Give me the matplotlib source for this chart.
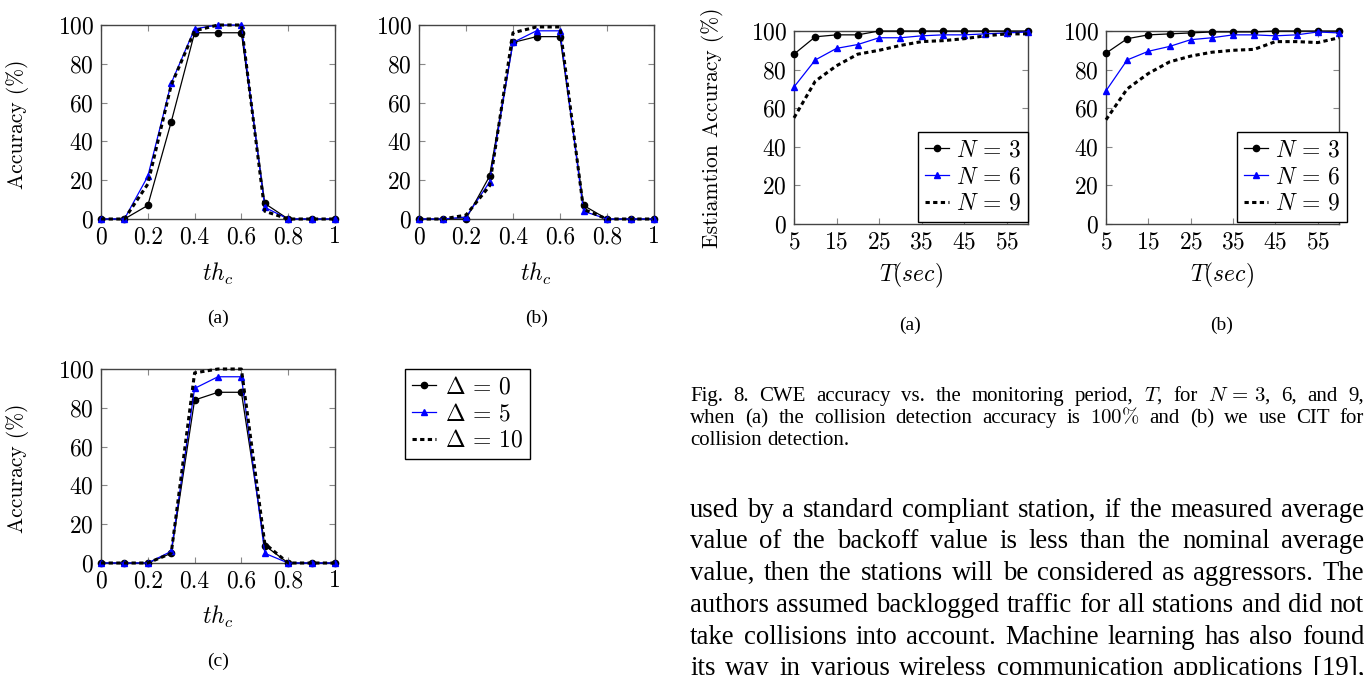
import matplotlib
matplotlib.use("Agg")
import matplotlib.pyplot as plt

# page-like layout: three threshold plots on the left, Fig. 8 on the right
W, H = 1364, 675

th_c = [0, 0.1, 0.2, 0.3, 0.4, 0.5, 0.6, 0.7, 0.8, 0.9, 1.0]
# (a)
a_d0 = [0, 0, 7, 50, 96, 96, 96, 8, 0, 0, 0]
a_d5 = [0, 0, 22, 70, 98, 100, 100, 6, 0, 0, 0]
a_d10 = [0, 0, 18, 69, 97, 100, 100, 4, 0, 0, 0]
# (b)
b_d0 = [0, 0, 0, 22, 91, 94, 94, 7, 0, 0, 0]
b_d5 = [0, 0, 1, 19, 91, 97, 97, 4, 0, 0, 0]
b_d10 = [0, 0, 2, 17, 96, 99, 99, 5, 0, 0, 0]
# (c)
c_d0 = [0, 0, 0, 5, 84, 88, 88, 9, 0, 0, 0]
c_d5 = [0, 0, 0, 6, 90, 96, 96, 5, 0, 0, 0]
c_d10 = [0, 0, 0, 5, 98, 100, 100, 10, 0, 0, 0]

T = [5, 10, 15, 20, 25, 30, 35, 40, 45, 50, 55, 60]
# Fig. 8 (a)
f8a_n3 = [88, 97, 98, 98, 100, 100, 100, 100, 100, 100, 100, 100]
f8a_n6 = [71, 85, 91, 93, 96.5, 96.5, 97.5, 98, 98, 98.5, 99, 99.5]
f8a_n9 = [55, 74, 82, 88, 90, 92.5, 94.5, 95, 96, 97.5, 98.5, 98.5]
# Fig. 8 (b)
f8b_n3 = [88.5, 96, 98, 98.5, 99, 99.5, 99.5, 99.5, 100, 100, 100, 100]
f8b_n6 = [69, 85, 89.5, 92, 95.5, 96.5, 98, 98, 97.5, 98, 99.5, 99]
f8b_n9 = [54, 70, 78, 84, 87, 89, 90, 90.5, 94.5, 94.5, 94, 96.5]

delta_labels = [r"$\Delta\,=\,0$", r"$\Delta\,=\,5$", r"$\Delta\,=\,10$"]
n_labels = [r"$N\,=\,3$", r"$N\,=\,6$", r"$N\,=\,9$"]

caption = ["Fig. 8.  CWE accuracy vs. the monitoring period, $T$, for $N\\,=\\,3$, 6, and 9,",
           "when (a) the collision detection accuracy is $100\\%$ and (b) we use CIT for",
           "collision detection."]
body = ["used by a standard compliant station, if the measured average",
        "value of the backoff value is less than the nominal average",
        "value, then the stations will be considered as aggressors. The",
        "authors assumed backlogged traffic for all stations and did not",
        "take collisions into account. Machine learning has also found",
        "its way in various wireless communication applications [19],"]

plt.rcParams["font.family"] = "serif"
plt.rcParams["font.serif"] = ["cmr10"]
plt.rcParams["mathtext.fontset"] = "cm"
plt.rcParams["axes.formatter.use_mathtext"] = True
plt.rcParams["axes.unicode_minus"] = False

fig = plt.figure(figsize=(W / 100, H / 100), dpi=100)

TICK = 17
LAB = 15.5
dots = (0, (1.4, 1.1))


def px_axes(x0, y0, x1, y1):
    return fig.add_axes([x0 / W, 1 - y1 / H, (x1 - x0) / W, (y1 - y0) / H])


def style(ax):
    for s in ax.spines.values():
        s.set_color("#444444")
        s.set_linewidth(1.0)
    ax.tick_params(direction="in", top=True, right=True, length=4,
                   color="#888888", labelsize=TICK, pad=5)
    ax.set_ylim(0, 100)
    ax.set_yticks([0, 20, 40, 60, 80, 100])


def three(ax, x, y0, y1, y2, labels):
    ax.plot(x, y0, color="black", lw=0.9, marker="o", ms=4.5, label=labels[0],
            clip_on=False, zorder=3)
    ax.plot(x, y1, color="blue", lw=0.9, marker="^", ms=4, label=labels[1],
            clip_on=False, zorder=4)
    ax.plot(x, y2, color="black", lw=2.2, ls=dots, label=labels[2],
            clip_on=False, zorder=5)


def th_axes(x0, y0, x1, y1, d0, d5, d10):
    ax = px_axes(x0, y0, x1, y1)
    three(ax, th_c, d0, d5, d10, delta_labels)
    style(ax)
    ax.set_xlim(0, 1)
    ax.set_xticks([0, 0.2, 0.4, 0.6, 0.8, 1.0])
    ax.set_xticklabels(["0", "0.2", "0.4", "0.6", "0.8", "1"])
    return ax


ax_a = th_axes(101, 25, 335, 219, a_d0, a_d5, a_d10)
ax_b = th_axes(419, 25, 654, 219, b_d0, b_d5, b_d10)
ax_c = th_axes(101, 369, 335, 563, c_d0, c_d5, c_d10)

leg = ax_c.legend(loc="upper left", bbox_to_anchor=(405 / W, 1 - 369 / H),
                  bbox_transform=fig.transFigure, fontsize=TICK, fancybox=False,
                  framealpha=1, edgecolor="black", borderaxespad=0,
                  handlelength=1.0, handletextpad=0.4, labelspacing=0.2,
                  borderpad=0.3)
leg.get_frame().set_linewidth(1.0)


def t_axes(x0, y0, x1, y1, n3, n6, n9, leg_x):
    ax = px_axes(x0, y0, x1, y1)
    three(ax, T, n3, n6, n9, n_labels)
    style(ax)
    ax.set_xlim(5, 60)
    ax.set_xticks([5, 15, 25, 35, 45, 55])
    lg = ax.legend(loc="lower right", bbox_to_anchor=(leg_x / W, 1 - 222 / H),
                   bbox_transform=fig.transFigure, fontsize=TICK, fancybox=False,
                   framealpha=1, edgecolor="black", borderaxespad=0,
                   handlelength=1.0, handletextpad=0.3, labelspacing=0.2,
                   borderpad=0.3)
    lg.get_frame().set_linewidth(1.0)
    return ax


ax_d = t_axes(794, 31, 1028, 224, f8a_n3, f8a_n6, f8a_n9, 1028)
ax_e = t_axes(1106, 31, 1339, 224, f8b_n3, f8b_n6, f8b_n9, 1347)


def ftext(x, y, s, **kw):
    kw.setdefault("ha", "center")
    kw.setdefault("va", "center")
    return fig.text(x / W, 1 - y / H, s, **kw)


# axis labels
ftext(18, 124, "Accuracy (%)", rotation=90, fontsize=LAB)
ftext(18, 468, "Accuracy (%)", rotation=90, fontsize=LAB)
ftext(712, 128, "Estiamtion Accuracy (%)", rotation=90, fontsize=LAB)
ftext(218, 274, r"$th_c$", fontsize=TICK)
ftext(536, 274, r"$th_c$", fontsize=TICK)
ftext(218, 617, r"$th_c$", fontsize=TICK)
ftext(911, 275, r"$T(sec)$", fontsize=TICK)
ftext(1222, 275, r"$T(sec)$", fontsize=TICK)

# sub captions (Times-like)
SERIF = "Liberation Serif"
ftext(218, 318, "(a)", fontsize=14, family=SERIF)
ftext(537, 318, "(b)", fontsize=14, family=SERIF)
ftext(218, 661, "(c)", fontsize=14, family=SERIF)
ftext(910, 325, "(a)", fontsize=14, family=SERIF)
ftext(1222, 325, "(b)", fontsize=14, family=SERIF)

renderer = fig.canvas.get_renderer()


def justify(line, x0, x1, y, size, stretch=True):
    words = [w for w in line.split(" ") if w]
    items = [fig.text(0, 0, w, fontsize=size, family=SERIF, va="baseline",
                      ha="left") for w in words]
    widths = [t.get_window_extent(renderer).width for t in items]
    if stretch and len(words) > 1:
        gap = (x1 - x0 - sum(widths)) / (len(words) - 1)
    else:
        gap = size * 100 / 72 * 0.25
    x = x0
    for t, w in zip(items, widths):
        t.set_position((x / W, 1 - y / H))
        x += w + gap


cap_base = [401, 423, 445]
for i, line in enumerate(caption):
    justify(line, 690, 1364, cap_base[i], 15, stretch=(i < 2))

body_base = [517, 548, 580, 612, 644, 675]
for line, yb in zip(body, body_base):
    justify(line, 690, 1364, yb, 19.3)

fig.savefig("out.png", dpi=100)
